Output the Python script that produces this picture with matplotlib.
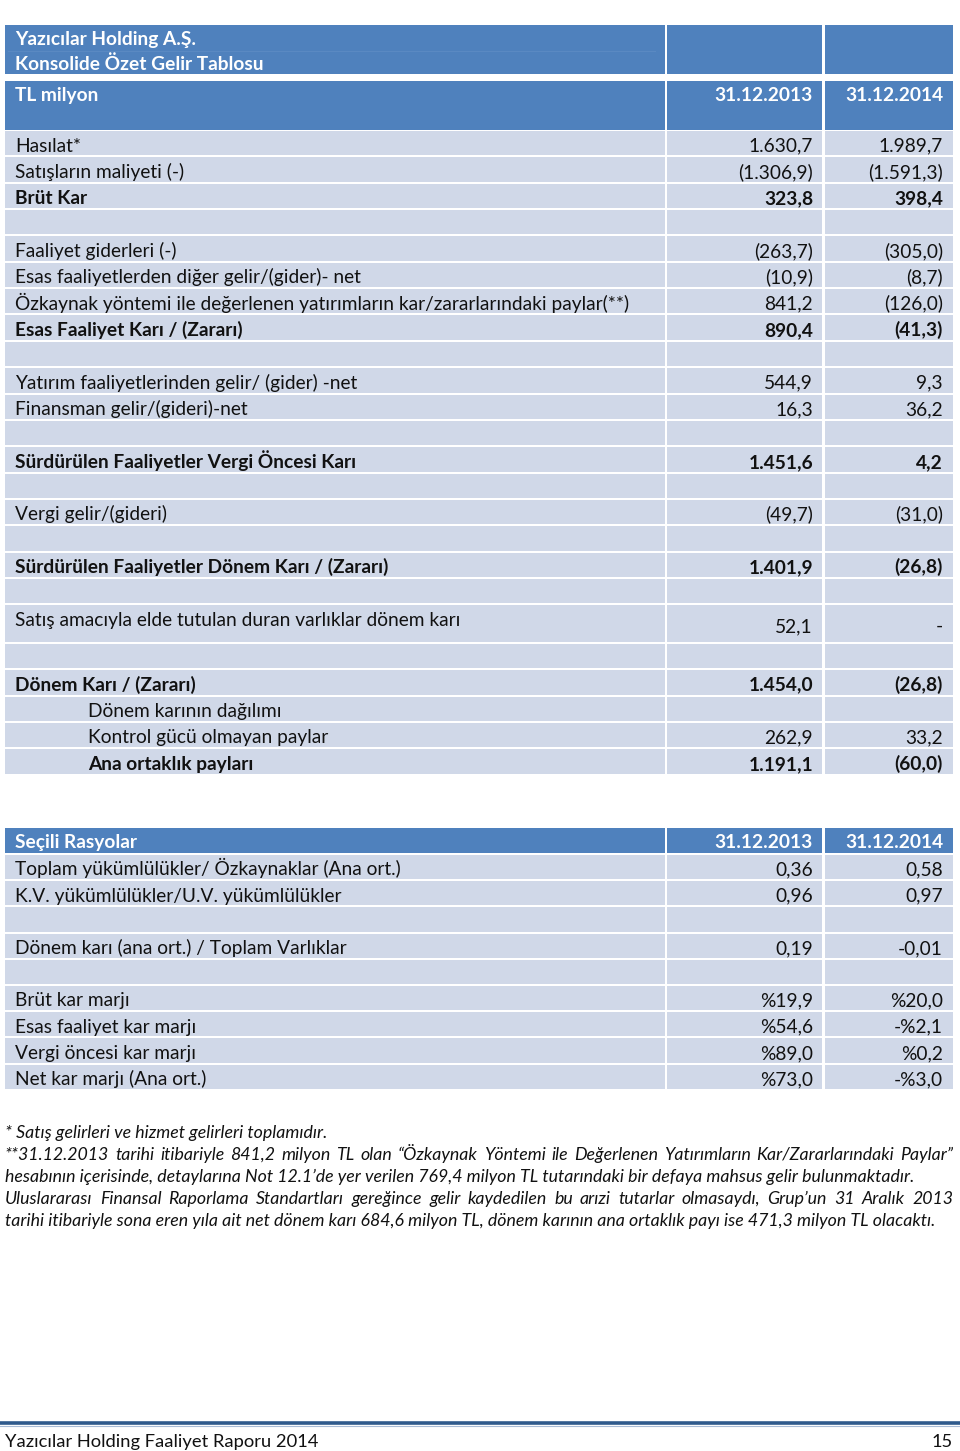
import matplotlib
matplotlib.use("Agg")
import matplotlib.pyplot as plt
from matplotlib.patches import Rectangle
from matplotlib.font_manager import FontProperties

# ---------------- data ----------------
title_lines = ["Yazıcılar Holding A.Ş.", "Konsolide Özet Gelir Tablosu"]
unit_label = "TL milyon"
periods = ["31.12.2013", "31.12.2014"]

income_labels = [
    "Hasılat*", "Satışların maliyeti (-)", "Brüt Kar", "",
    "Faaliyet giderleri (-)", "Esas faaliyetlerden diğer gelir/(gider)- net",
    "Özkaynak yöntemi ile değerlenen yatırımların kar/zararlarındaki paylar(**)",
    "Esas Faaliyet Karı / (Zararı)", "",
    "Yatırım faaliyetlerinden gelir/ (gider) -net", "Finansman gelir/(gideri)-net", "",
    "Sürdürülen Faaliyetler Vergi Öncesi Karı", "",
    "Vergi gelir/(gideri)", "",
    "Sürdürülen Faaliyetler Dönem Karı / (Zararı)", "",
    "Satış amacıyla elde tutulan duran varlıklar dönem karı", "",
    "Dönem Karı / (Zararı)", "Dönem karının dağılımı",
    "Kontrol gücü olmayan paylar", "Ana ortaklık payları",
]
income_2013 = ["1.630,7", "(1.306,9)", "323,8", "", "(263,7)", "(10,9)", "841,2", "890,4", "",
               "544,9", "16,3", "", "1.451,6", "", "(49,7)", "", "1.401,9", "", "52,1", "",
               "1.454,0", "", "262,9", "1.191,1"]
income_2014 = ["1.989,7", "(1.591,3)", "398,4", "", "(305,0)", "(8,7)", "(126,0)", "(41,3)", "",
               "9,3", "36,2", "", "4,2", "", "(31,0)", "", "(26,8)", "", "-", "",
               "(26,8)", "", "33,2", "(60,0)"]

ratio_title = "Seçili Rasyolar"
ratio_labels = ["Toplam yükümlülükler/ Özkaynaklar (Ana ort.)", "K.V. yükümlülükler/U.V. yükümlülükler", "",
                "Dönem karı (ana ort.) / Toplam Varlıklar", "",
                "Brüt kar marjı", "Esas faaliyet kar marjı", "Vergi öncesi kar marjı", "Net kar marjı (Ana ort.)"]
ratio_2013 = ["0,36", "0,96", "", "0,19", "", "%19,9", "%54,6", "%89,0", "%73,0"]
ratio_2014 = ["0,58", "0,97", "", "-0,01", "", "%20,0", "-%2,1", "%0,2", "-%3,0"]

footnote_paragraphs = [
    ["* Satış gelirleri ve hizmet gelirleri toplamıdır."],
    ["**31.12.2013 tarihi itibariyle 841,2 milyon TL olan “Özkaynak Yöntemi ile Değerlenen Yatırımların Kar/Zararlarındaki Paylar”",
     "hesabının içerisinde, detaylarına Not 12.1’de yer verilen 769,4 milyon TL tutarındaki bir defaya mahsus gelir bulunmaktadır."],
    ["Uluslararası Finansal Raporlama Standartları gereğince gelir kaydedilen bu arızi tutarlar olmasaydı, Grup’un 31 Aralık 2013",
     "tarihi itibariyle sona eren yıla ait net dönem karı 684,6 milyon TL, dönem karının ana ortaklık payı ise 471,3 milyon TL olacaktı."],
]
footer_text = "Yazıcılar Holding Faaliyet Raporu 2014"
page_no = "15"

# ---------------- style ----------------
DARK = "#4F81BD"
LIGHT = "#D0D8E8"
TXT = "#111111"
FONT = "Lato"
bold_income = {2, 7, 12, 16, 20, 23}
indent_income = {21, 22, 23}
tall_income = {18}

W, H = 960, 1451
fig = plt.figure(figsize=(W / 100, H / 100), dpi=100)
ax = fig.add_axes([0, 0, 1, 1])
ax.set_xlim(0, W)
ax.set_ylim(H, 0)
ax.axis("off")
renderer = fig.canvas.get_renderer()


def text_w(s, size, weight="normal", style="normal"):
    fp = FontProperties(family=FONT, size=size, weight=weight, style=style)
    w, h, d = renderer.get_text_width_height_descent(s, fp, ismath=False)
    return w


def fit_size(s, target, weight="normal", style="normal"):
    return 10 * target / text_w(s, 10, weight, style)


FS = fit_size(income_labels[6], 613)
FN = fit_size(footnote_paragraphs[2][1], 930, style="italic")
FF = fit_size(footer_text, 313)

C1 = (5, 665)
C2 = (667, 822)
C3 = (825, 953)
X_LAB = 15
X_V1 = 813
X_V2 = 943


def cell(x0x1, y0, y1, color):
    ax.add_patch(Rectangle((x0x1[0], y0), x0x1[1] - x0x1[0], y1 - y0,
                           facecolor=color, edgecolor="none"))


def put(x, y, s, ha="left", bold=False, color=TXT, size=None, style="normal"):
    """y is the visual centre of capital letters; text is placed on its baseline."""
    size = size or FS
    base = y + 0.36 * size * 100 / 72
    ax.text(x, base, s, ha=ha, va="baseline", fontsize=size, family=FONT,
            fontweight="bold" if bold else "normal", color=color, style=style)


# header 1
cell(C1, 25, 74, DARK)
cell(C2, 25, 74, DARK)
cell(C3, 25, 74, DARK)
ax.plot([8, 655], [50.5, 50.5], color="#5B8AC3", lw=0.7)
put(X_LAB, 38.5, title_lines[0], bold=True, color="white")
put(X_LAB, 63, title_lines[1], bold=True, color="white")
# header 2
cell(C1, 81, 130, DARK)
cell(C2, 81, 130, DARK)
cell(C3, 81, 130, DARK)
put(X_LAB, 94, unit_label, bold=True, color="white")
put(X_V1, 94, periods[0], ha="right", bold=True, color="white")
put(X_V2, 94, periods[1], ha="right", bold=True, color="white")

# income statement rows
RH = 26.35
y = 131
for i, lab in enumerate(income_labels):
    h = 38.5 if i in tall_income else RH
    y0, y1 = y, y + h - 2
    for c in (C1, C2, C3):
        cell(c, y0, y1, LIGHT)
    b = i in bold_income
    xl = 88 if i in indent_income else X_LAB
    if i in tall_income:
        put(xl, y0 + 14, lab, bold=b)
        put(X_V1, y0 + 20, income_2013[i], ha="right", bold=b)
        put(X_V2, y0 + 20, income_2014[i], ha="right", bold=b)
    else:
        cy = (y0 + y1) / 2 + 1.5
        put(xl, cy, lab, bold=b)
        put(X_V1, cy, income_2013[i], ha="right", bold=b)
        put(X_V2, cy, income_2014[i], ha="right", bold=b)
    y += h

# ratios table
cell(C1, 828, 853, DARK)
cell(C2, 828, 853, DARK)
cell(C3, 828, 853, DARK)
put(X_LAB, 841, ratio_title, bold=True, color="white")
put(X_V1, 841, periods[0], ha="right", bold=True, color="white")
put(X_V2, 841, periods[1], ha="right", bold=True, color="white")
y = 855
for i, lab in enumerate(ratio_labels):
    y0, y1 = y, y + 26.2 - 2
    for c in (C1, C2, C3):
        cell(c, y0, y1, LIGHT)
    cy = (y0 + y1) / 2 + 1.5
    put(X_LAB, cy, lab)
    put(X_V1, cy, ratio_2013[i], ha="right")
    put(X_V2, cy, ratio_2014[i], ha="right")
    y += 26.2

# footnotes (justified)
fy = [1132, 1153.5, 1176, 1198, 1220]
k = 0
for para in footnote_paragraphs:
    for j, line in enumerate(para):
        last = j == len(para) - 1
        if last:
            put(5, fy[k], line, size=FN, style="italic")
        else:
            words = line.split(" ")
            widths = [text_w(wd, FN, style="italic") for wd in words]
            gap = (953 - 5 - sum(widths)) / (len(words) - 1)
            x = 5
            for wd, ww in zip(words, widths):
                put(x, fy[k], wd, size=FN, style="italic")
                x += ww + gap
        k += 1

# footer
ax.plot([0, 960], [1423, 1423], color="#2F5A8C", lw=2.6, solid_capstyle="butt")
ax.plot([0, 960], [1425.5, 1425.5], color="#A9BCD6", lw=0.8)
put(5, 1440, footer_text, size=FF)
put(953, 1440, page_no, ha="right", size=FF)

fig.savefig("out.png", dpi=100, facecolor="white")
